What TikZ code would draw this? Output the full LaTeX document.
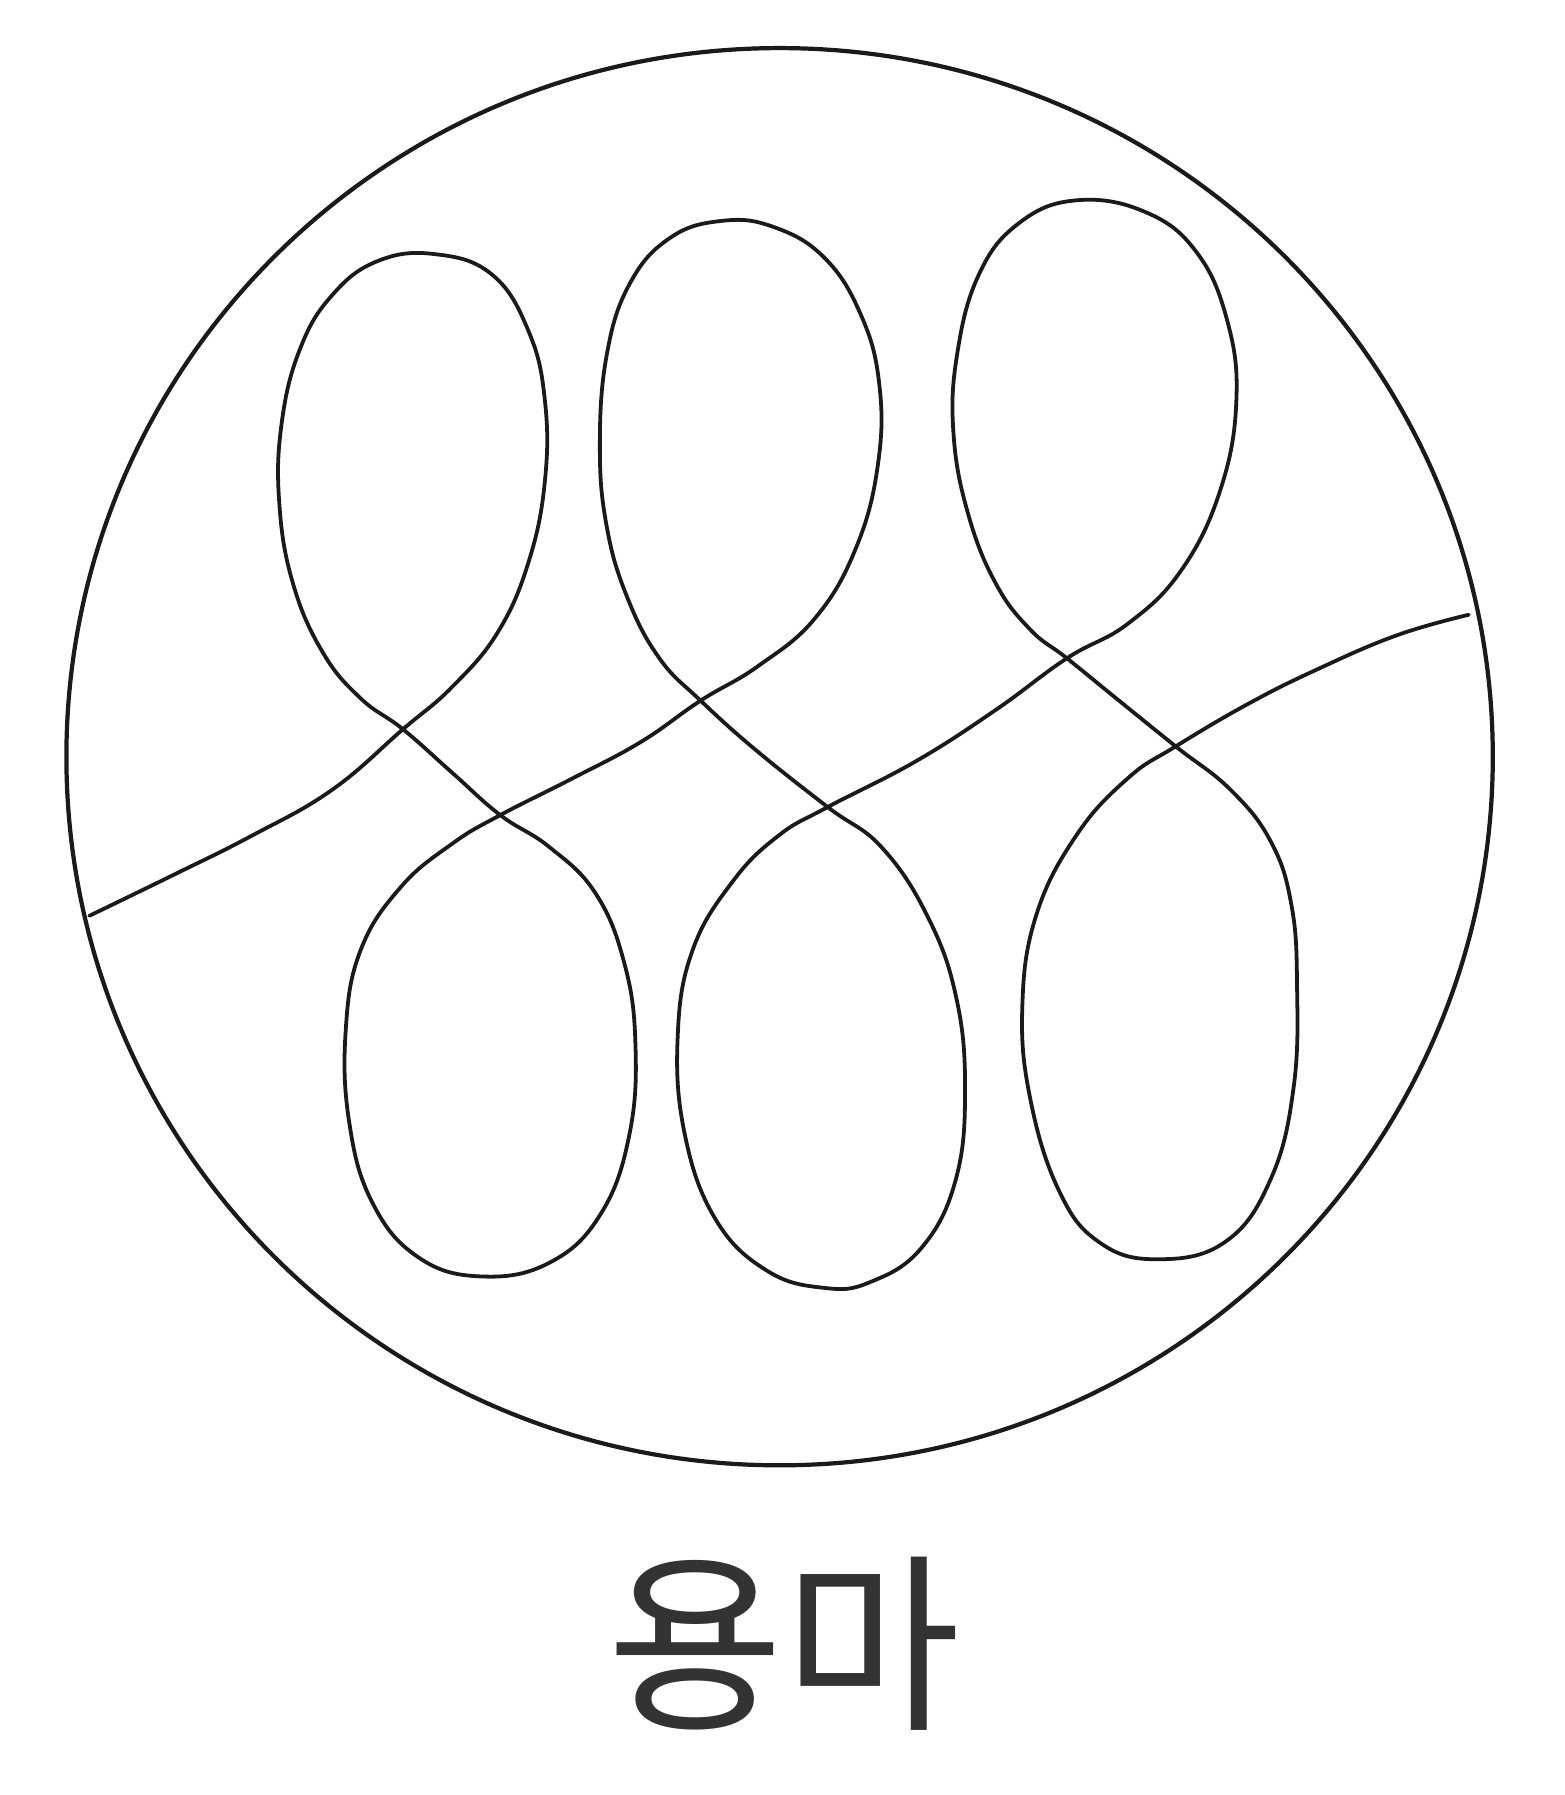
\documentclass[tikz,border=0pt]{standalone}
\usepackage{fontspec}
\newfontfamily\kr{Noto Sans CJK KR}
\definecolor{ink}{HTML}{1A1A1A}
\definecolor{txt}{HTML}{333333}
\tikzset{
  pen/.style={draw=ink, line width=4.3pt, line cap=round, line join=round},
  rim/.style={draw=ink, line width=4.8pt},
  label/.style={text=txt, inner sep=0pt, font=\kr\fontsize{218pt}{218pt}\selectfont}
}
\begin{document}
\begin{tikzpicture}[x=0.045794cm, y=-0.045794cm]
\useasboundingbox (0,0) rectangle (1367,1568);
\fill[white] (0,0) rectangle (1367,1568);
% outer circle
\draw[rim] (681,661) ellipse [x radius=623, y radius=619];
% chain of figure-eights
\draw[pen] plot[smooth, tension=0.7] coordinates {
 (78,800) (150,765) (220,730) (290,690) (352,637)
 (395,600) (435,552) (462,490) (476,420) (476,350) (462,290) (430,240) (380,222) (330,228) (290,258) (262,305) (246,370) (244,440) (256,510) (282,570) (315,610) (352,637) (395,675) (437,712)
 (480,740) (520,780) (545,840) (555,910) (550,990) (525,1060) (480,1103) (420,1115) (365,1098) (325,1050) (305,980) (302,900) (315,830) (350,775) (395,737) (437,712) (500,680) (560,648) (612,612)
 (662,582) (712,540) (748,478) (767,405) (768,335) (752,275) (720,225) (675,198) (630,193) (585,208) (550,248) (530,310) (524,390) (530,460) (548,522) (576,575) (612,612) (660,655) (723,705)
 (770,740) (810,800) (835,870) (843,950) (835,1030) (805,1090) (760,1120) (720,1125) (670,1110) (625,1065) (598,990) (592,905) (605,830) (640,770) (680,730) (723,705) (800,665) (870,620) (932,575)
 (985,545) (1032,498) (1066,428) (1080,350) (1072,280) (1045,220) (1000,185) (940,175) (890,195) (855,240) (836,310) (833,380) (846,450) (870,510) (900,550) (932,575) (975,610) (1027,652)
 (1075,690) (1110,735) (1128,790) (1133,860) (1130,950) (1110,1030) (1070,1085) (1010,1100) (960,1085) (925,1040) (900,960) (893,880) (905,800) (940,730) (985,680) (1027,652) (1090,615) (1150,585) (1220,555) (1283,537)
};
% caption
\node[label] (cap) at (685,1436) {용마};
\end{tikzpicture}
\end{document}
